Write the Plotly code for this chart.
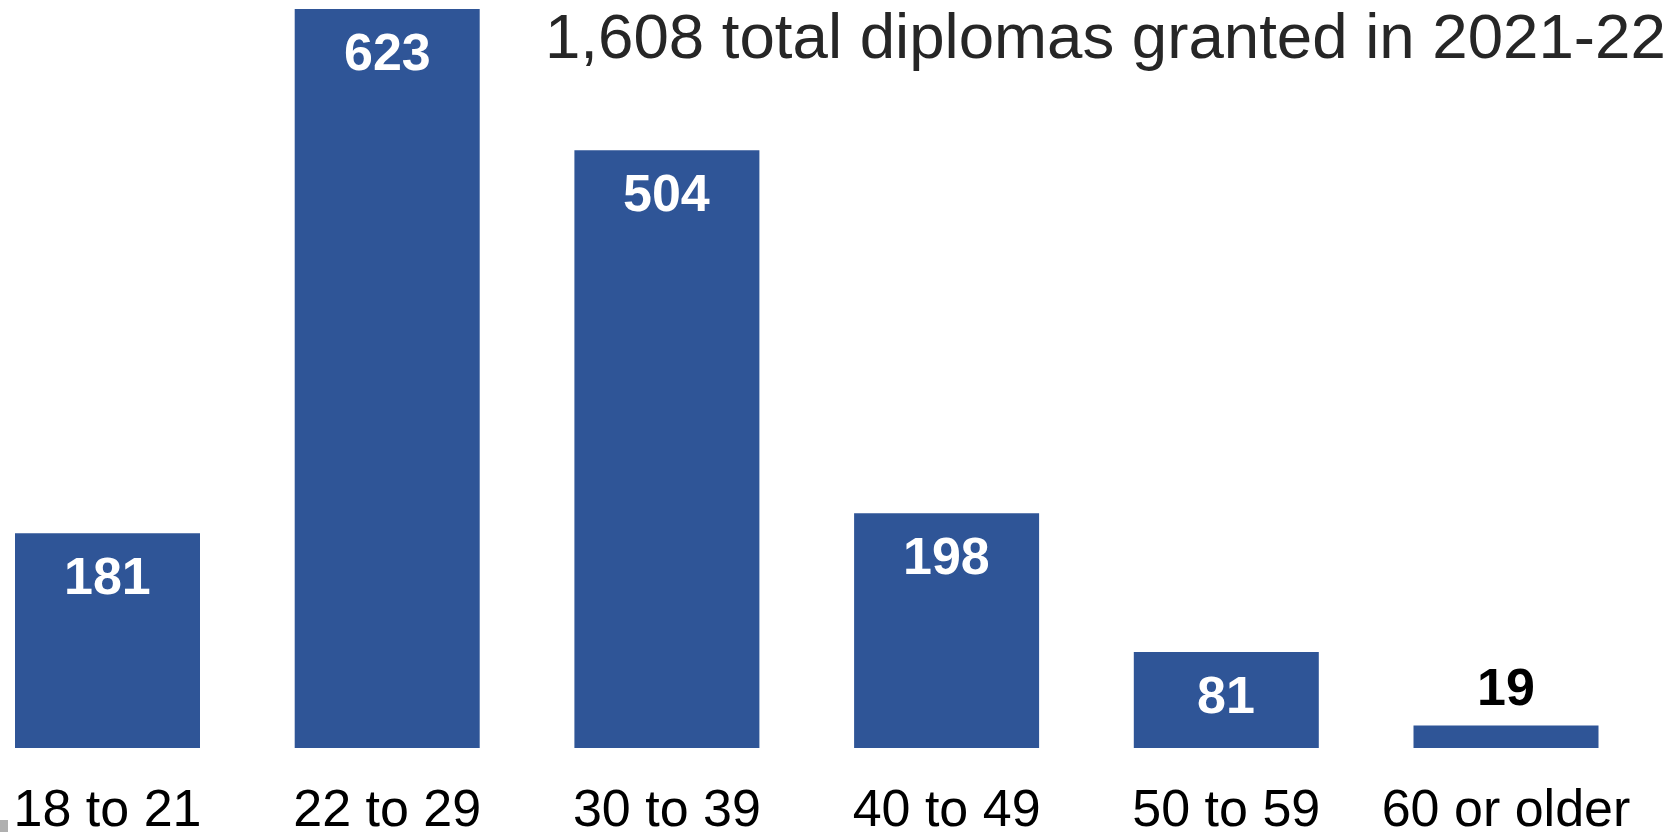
import plotly.graph_objects as go

categories = ["18 to 21", "22 to 29", "30 to 39", "40 to 49", "50 to 59", "60 or older"]
diplomas = [181, 623, 504, 198, 81, 19]
title_text = "1,608 total diplomas granted in 2021-22"

BAR_COLOR = "#2F5597"
FONT = "Liberation Sans, Arial, sans-serif"

W, H = 1675, 832
plot_bottom = 748  # px of axis line
px_per_unit = (748 - 9) / 623.0
y_max = plot_bottom / px_per_unit
cat_px = 279.7
first_center = 107.5
x_min = -first_center / cat_px
x_max = (W - first_center) / cat_px

fig = go.Figure()
fig.add_trace(go.Bar(
    x=list(range(len(categories))),
    y=diplomas,
    marker=dict(color=BAR_COLOR, line=dict(width=0)),
    hoverinfo="skip",
))

annotations = []
for i, v in enumerate(diplomas):
    inside = v * px_per_unit > 80
    annotations.append(dict(
        x=i, y=v, xref="x", yref="y",
        text=f"<b>{v}</b>",
        showarrow=False,
        xanchor="center", yanchor="middle",
        yshift=-43 if inside else 38,
        font=dict(family=FONT, size=52, color="white" if inside else "black"),
    ))

annotations.append(dict(
    x=1668 / W, y=1 - 36 / plot_bottom, xref="paper", yref="paper",
    text=title_text, showarrow=False,
    xanchor="right", yanchor="middle",
    font=dict(family=FONT, size=63.6, color="#262626"),
))

fig.update_layout(
    width=W, height=H,
    margin=dict(l=0, r=0, t=0, b=H - plot_bottom, pad=0, autoexpand=False),
    paper_bgcolor="white", plot_bgcolor="white",
    showlegend=False,
    bargap=1 - 185 / cat_px,
    annotations=annotations,
    shapes=[dict(
        type="rect", xref="paper", yref="paper",
        x0=0, x1=8 / W,
        y0=-(832 - 748) / plot_bottom, y1=-(820 - 748) / plot_bottom,
        fillcolor="#B0B0B0", line=dict(width=0), layer="above",
    )],
    xaxis=dict(
        range=[x_min, x_max],
        tickmode="array",
        tickvals=list(range(len(categories))),
        ticktext=categories,
        tickfont=dict(family=FONT, size=52, color="black"),
        showgrid=False, zeroline=False, showline=False,
        ticks="", ticklabelstandoff=25,
        automargin=False,
        fixedrange=True,
    ),
    yaxis=dict(
        range=[0, y_max],
        visible=False,
        automargin=False,
        fixedrange=True,
    ),
)

fig.write_html(
    "out.html",
    config={"displayModeBar": False},
    post_script="document.body.style.margin='0';document.body.style.overflow='hidden';",
)
